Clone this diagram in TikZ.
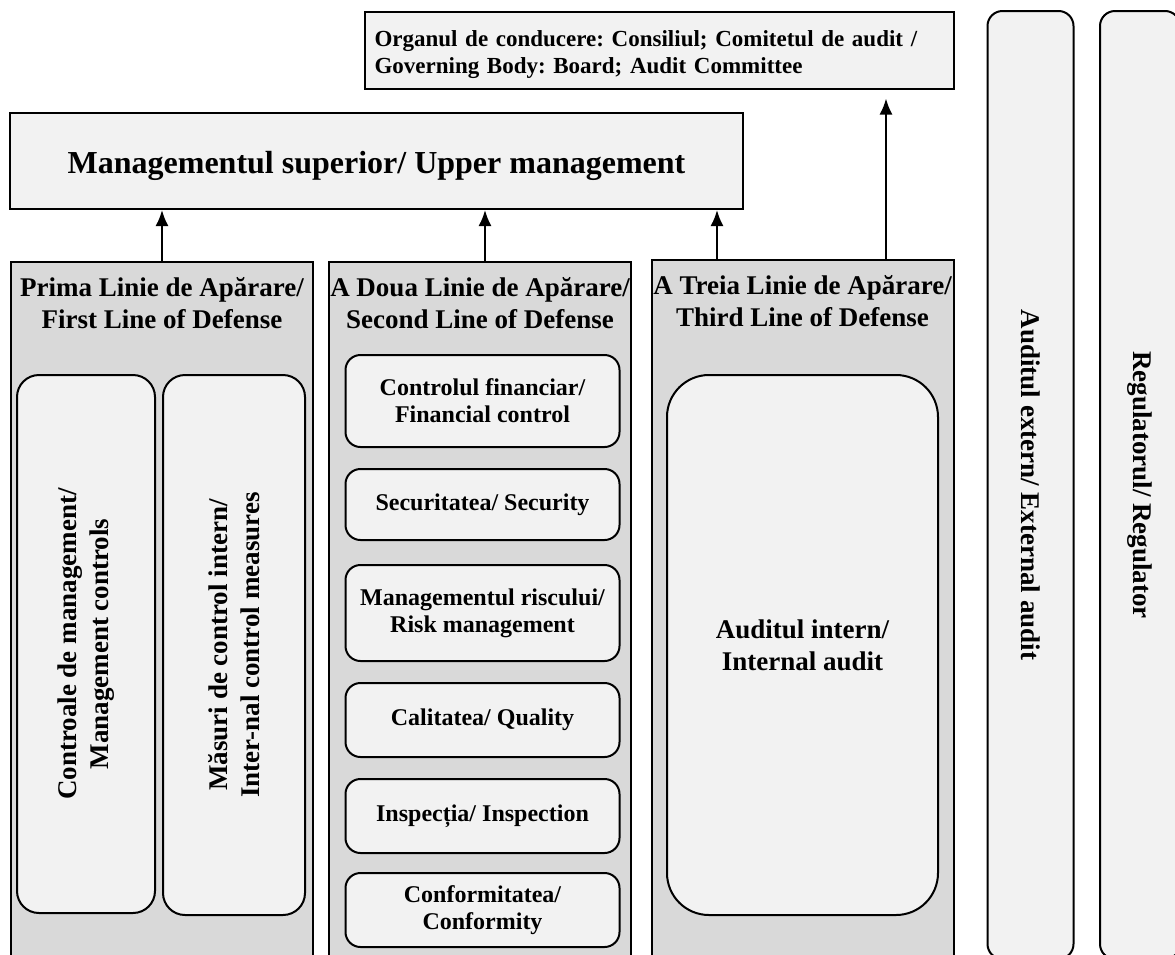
\documentclass[tikz,border=0pt]{standalone}
\usepackage{fontspec}
\setmainfont{Liberation Serif}
\usetikzlibrary{arrows.meta}
\definecolor{lightfill}{HTML}{F2F2F2}
\definecolor{darkfill}{HTML}{D9D9D9}
\frenchspacing
\begin{document}
\begin{tikzpicture}[x=1pt, y=-1pt, >={Latex[length=16pt,width=13pt]}, line width=2pt]
        \tikzset{
  topbox/.style={
    draw,
    fill=lightfill,
    inner sep=0pt
  },
  linebox/.style={
    draw,
    fill=darkfill,
    anchor=north,
    minimum width=302pt,
    minimum height=720pt
  },
  linetitle/.style={
    align=center,
    inner sep=0pt,
    font=\fontsize{27}{32}\selectfont\bfseries
  },
  innerbox/.style={
    draw,
    fill=lightfill,
    align=center,
    inner sep=0pt,
    font=\fontsize{27}{32}\selectfont\bfseries
  },
  smallbox/.style={
    innerbox,
    rounded corners=15pt,
    minimum width=274pt,
    font=\fontsize{24}{27}\selectfont\bfseries
  },
  sidebox/.style={
    innerbox,
    rounded corners=15pt,
    rotate=-90,
    minimum width=948pt
  }
}

\useasboundingbox (0,0) rectangle (1175,954);

% governing body and upper management
\node [topbox, text width=569pt, inner xsep=10pt, minimum height=77pt, align=left,
  font=\fontsize{23}{27}\selectfont\bfseries] (organ) at (659,50)
  {\rule{0pt}{25pt}Organul de conducere: Consiliul; Comitetul de audit /\\Governing Body: Board; Audit Committee};
\node [topbox, minimum width=733pt, minimum height=96pt,
  font=\fontsize{32}{38}\selectfont\bfseries] (upper) at (376.5,161)
  {\rule{0pt}{33pt}Managementul superior/ Upper management};

% the three lines of defense
\node [linebox] (first) at (162,261) {};
\node [linebox] (second) at (480,261) {};
\node [linebox] (third) at (802.5,259) {};

\node [linetitle] (firsttitle) at (162,303) {Prima Linie de Apărare/\\First Line of Defense};
\node [linetitle] (secondtitle) at (480,303) {A Doua Linie de Apărare/\\Second Line of Defense};
\node [linetitle] (thirdtitle) at (802.5,301) {A Treia Linie de Apărare/\\Third Line of Defense};

% first line
\node [innerbox, rotate=90, rounded corners=22pt, minimum width=538pt, minimum height=138pt]
  (mgmtctrl) at (86,644) {Controale de management/\\Management controls};
\node [innerbox, rotate=90, rounded corners=22pt, minimum width=540pt, minimum height=142pt]
  (intctrl) at (234,645) {Măsuri de control intern/\\Inter-nal control measures};

% second line
\foreach \c/\h/\t [count=\i] in {401/92/{Controlul financiar/\\Financial control},
    504.5/71/{Securitatea/ Security},
    613/96/{Managementul riscului/\\Risk management},
    720/74/{Calitatea/ Quality},
    816/74/{Inspecția/ Inspection},
    910/74/{Conformitatea/\\Conformity}}
  \node [smallbox, minimum height=\h pt] (second-\i) at (482.5,\c) {\t};

% third line
\node [innerbox, rounded corners=42pt, minimum width=271pt, minimum height=540pt]
  (intaudit) at (802.5,645) {Auditul intern/\\Internal audit};

% external parties
\node [sidebox, minimum height=86pt] (extaudit) at (1030.5,485) {Auditul extern/ External audit};
\node [sidebox, minimum height=80pt] (regulator) at (1140,485) {Regulatorul/ Regulator};

% reporting arrows
\coordinate (organin) at ([yshift=-9pt]organ.south -| 886,0);
\draw [->] (first.north) -- (first.north |- upper.south);
\draw [->] ([xshift=5pt]second.north) -- ([xshift=5pt]second.north |- upper.south);
\draw [->] ([xshift=-85.5pt]third.north) -- ([xshift=-85.5pt]third.north |- upper.south);
\draw [->] ([xshift=83.5pt]third.north) -- ([xshift=83.5pt]third.north |- organin);
      \end{tikzpicture}
\end{document}
